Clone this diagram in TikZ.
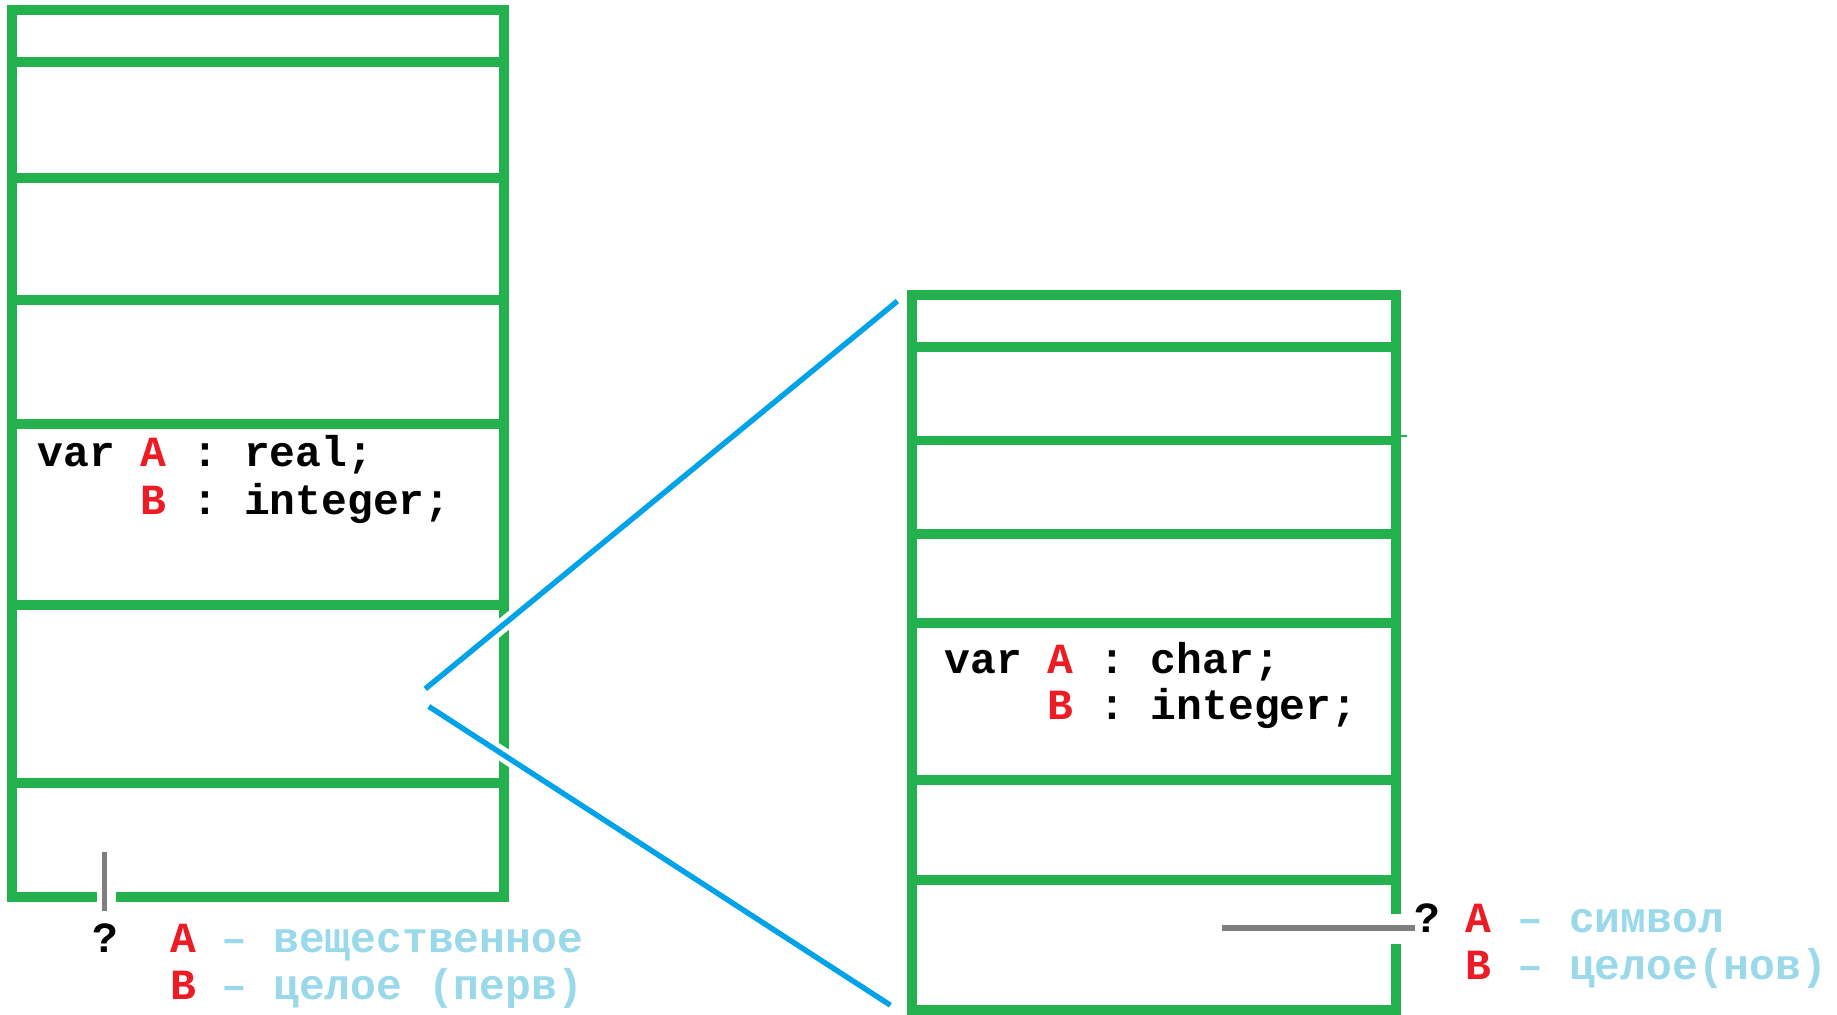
\documentclass[tikz,border=0pt]{standalone}
\usepackage{fontspec}
\newfontfamily\cour{Liberation Mono}
\definecolor{pgreen}{RGB}{34,177,76}
\definecolor{pblue}{RGB}{0,162,232}
\definecolor{pred}{RGB}{237,28,36}
\definecolor{plb}{RGB}{153,217,234}
\definecolor{pgray}{RGB}{127,127,127}
\begin{document}
\begin{tikzpicture}[x=1pt,y=-1pt,
  gline/.style={draw=pgreen, line width=8.5pt},
  bline/.style={draw=pblue, line width=4.6pt, preaction={draw=white, line width=12.5pt}},
  grayline/.style={draw=pgray, line width=4.5pt},
  code/.style={anchor=base west, inner sep=0pt, font=\cour\bfseries\fontsize{36.7}{40}\selectfont}]
\useasboundingbox[fill=white] (0,0) rectangle (1568,866);
% left memory column
\draw[gline] (10,8.5) rectangle (430,766);
\foreach \yy in {53,152,256,362,516,668} \draw[gline] (10,\yy) -- (430,\yy);
% right memory column
\draw[gline] (778.5,252) rectangle (1191.5,862);
\foreach \yy in {296,376,456,532,666,751} \draw[gline] (778.5,\yy) -- (1191.5,\yy);
\draw[pgreen, line width=1.2pt] (1191.5,372) -- (1201,372);
% gaps for pointers
\fill[white] (83,761) rectangle (99,771);
\fill[white] (1185,780) rectangle (1198,806);
% zoom lines
\coordinate (zt) at (363,588);
\coordinate (zb) at (366,603);
\coordinate (rt) at (766,257);
\coordinate (rb) at (760,858);
\draw[bline] (zt) -- (rt);
\draw[bline] (zb) -- (rb);
% pointers
\coordinate (p1a) at (89,727);
\coordinate (p1b) at (89,778);
\coordinate (p2a) at (1043,792);
\coordinate (p2b) at (1208,792);
\draw[grayline] (p1a) -- (p1b);
\draw[grayline] (p2a) -- (p2b);
% code
\node[code] (c1) at (32,398) {var \textcolor{pred}{A} : real;};
\node[code] (c2) at (120,439) {\textcolor{pred}{B} : integer;};
\node[code] (c3) at (806,575) {var \textcolor{pred}{A} : char;};
\node[code] (c4) at (894,614) {\textcolor{pred}{B} : integer;};
% labels
\node[code] (q1) at (79,813) {?};
\node[code] (la) at (145,813) {\textcolor{pred}{A} \textcolor{plb}{– вещественное}};
\node[code] (lb) at (145,853) {\textcolor{pred}{B} \textcolor{plb}{– целое (перв)}};
\node[code] (q2) at (1207,796) {?};
\node[code] (ra) at (1251,796) {\textcolor{pred}{A} \textcolor{plb}{– символ}};
\node[code] (rbl) at (1251,836) {\textcolor{pred}{B} \textcolor{plb}{– целое(нов)}};
\end{tikzpicture}
\end{document}
